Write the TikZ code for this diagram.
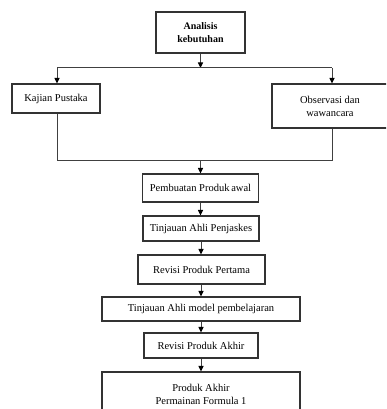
\documentclass[tikz,border=0pt]{standalone}
\usepackage{fontspec}
\setmainfont{Liberation Serif}
\usetikzlibrary{arrows.meta}
\begin{document}
\begin{tikzpicture}[x=1pt,y=-1pt,
  box/.style={draw=black!80,line width=1.1pt,fill=white,inner sep=0pt,align=center,
    font=\fontsize{10.5}{13}\selectfont},
  conn/.style={draw=black!75,line width=1pt},
  arr/.style={conn,-{Triangle[length=5.5pt,width=5pt,fill=black,color=black]}}]
\useasboundingbox (0,0) rectangle (386,409);
\begin{scope}
\clip (0,0) rectangle (386,409);
\node[box,minimum width=89pt,minimum height=41pt,font=\bfseries\fontsize{10}{12.5}\selectfont] (ana) at (200.5,32.5) {Analisis\\kebutuhan};
\node[box,minimum width=88pt,minimum height=29pt] (kaj) at (56,98.5) {Kajian Pustaka};
\node[box,minimum width=116pt,minimum height=44pt] (obs) at (330,106) {Observasi dan\\wawancara};
\node[box,minimum width=116pt,minimum height=28pt] (pem) at (200.5,188) {Pembuatan Produk\,awal};
\node[box,minimum width=116pt,minimum height=25pt] (tin1) at (201,228.5) {Tinjauan Ahli Penjaskes};
\node[box,minimum width=127pt,minimum height=29pt] (rev1) at (201.5,269.5) {Revisi Produk Pertama};
\node[box,minimum width=198pt,minimum height=24pt] (tin2) at (201,309) {Tinjauan Ahli model pembelajaran};
\node[box,minimum width=114pt,minimum height=25pt] (rev2) at (201,345.5) {Revisi Produk Akhir};
\node[box,minimum width=198pt,minimum height=44pt] (pa) at (201,394) {Produk Akhir\\Permainan Formula 1};

\coordinate (jt) at (200.5,68);
\coordinate (jl) at (57,68);
\coordinate (jr) at (332,68);
\coordinate (bl) at (57,160);
\coordinate (br) at (332,160);
\coordinate (bc) at (200.5,160);

\draw[arr] (ana.south) -- (jt);
\draw[conn] (jl) -- (jr);
\draw[arr] (jl) -- (jl |- kaj.north);
\draw[arr] (jr) -- (jr |- obs.north);
\draw[conn] (kaj.south -| bl) -- (bl) -- (br) -- (obs.south -| br);
\draw[arr] (bc) -- (pem.north);
\draw[arr] (pem.south) -- (pem.south |- tin1.north);
\draw[arr] (tin1.south) -- (tin1.south |- rev1.north);
\draw[arr] (rev1.south -| tin2.north) -- (tin2.north);
\draw[arr] (tin2.south) -- (rev2.north);
\draw[arr] (rev2.south) -- (pa.north);
\end{scope}
\end{tikzpicture}
\end{document}
